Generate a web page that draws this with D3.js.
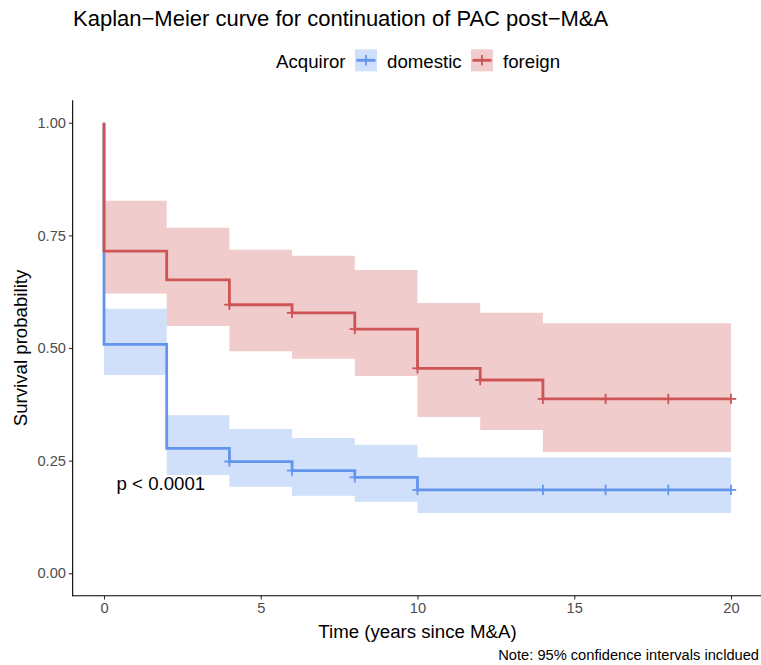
<!DOCTYPE html>
<html>
<head>
<meta charset="utf-8">
<script src="https://cdn.jsdelivr.net/npm/d3@7"></script>
<style>
  html, body { margin: 0; padding: 0; background: #ffffff; }
  svg { display: block; font-family: "Liberation Sans", Arial, Helvetica, sans-serif; }
</style>
</head>
<body>
<svg id="chart" width="761" height="665"></svg>
<script>
// Kaplan–Meier estimates (step values start at each break time, last step runs to endTime)
const endTime = 20;

const domesticTimes = [0, 2, 4, 6, 8, 10];
const domesticSurv  = [0.508, 0.277, 0.248, 0.228, 0.213, 0.185];
const domesticUpper = [0.587, 0.351, 0.320, 0.300, 0.285, 0.257];
const domesticLower = [0.440, 0.218, 0.192, 0.172, 0.159, 0.134];
const domesticCensor = [4, 6, 8, 10, 14, 16, 18, 20];

const foreignTimes = [0, 2, 4, 6, 8, 10, 12, 14];
const foreignSurv  = [0.715, 0.651, 0.596, 0.578, 0.542, 0.455, 0.429, 0.387];
const foreignUpper = [0.827, 0.767, 0.718, 0.705, 0.673, 0.600, 0.578, 0.555];
const foreignLower = [0.621, 0.549, 0.493, 0.476, 0.438, 0.347, 0.318, 0.269];
const foreignCensor = [4, 6, 8, 10, 12, 14, 16, 18, 20];

const groups = ["domestic", "foreign"];
const xTicks = [0, 5, 10, 15, 20];
const yTicks = [0, 0.25, 0.5, 0.75, 1];

const colors = { domestic: "#6495ED", foreign: "#CD5555" };
const fillOpacity = 0.3;

const series = [
  { name: "domestic", times: domesticTimes, surv: domesticSurv, upper: domesticUpper, lower: domesticLower, censor: domesticCensor },
  { name: "foreign",  times: foreignTimes,  surv: foreignSurv,  upper: foreignUpper,  lower: foreignLower,  censor: foreignCensor }
];

const svg = d3.select("#chart");
const panel = { left: 72.65, right: 762.35, top: 100.2, bottom: 595.8 };

const x = d3.scaleLinear().domain([-1, 21]).range([panel.left, panel.right]);
const y = d3.scaleLinear().domain([-0.05, 1.05]).range([panel.bottom, panel.top]);

// survival value at time t for a step series
function survAt(s, t) {
  let v = 1;
  s.times.forEach((tt, i) => { if (tt <= t) v = s.surv[i]; });
  return v;
}

const plot = svg.append("g");

// confidence ribbons
series.forEach(s => {
  const pts = s.times.map((t, i) => ({ t, lo: s.lower[i], hi: s.upper[i] }));
  pts.push({ t: endTime, lo: s.lower[s.lower.length - 1], hi: s.upper[s.upper.length - 1] });
  const area = d3.area()
    .curve(d3.curveStepAfter)
    .x(d => x(d.t))
    .y0(d => y(d.lo))
    .y1(d => y(d.hi));
  plot.append("path")
    .attr("d", area(pts))
    .attr("fill", colors[s.name])
    .attr("fill-opacity", fillOpacity);
});

// survival step lines
series.forEach(s => {
  const pts = [{ t: 0, v: 1 }].concat(s.times.map((t, i) => ({ t, v: s.surv[i] })));
  pts.push({ t: endTime, v: s.surv[s.surv.length - 1] });
  const line = d3.line().curve(d3.curveStepAfter).x(d => x(d.t)).y(d => y(d.v));
  plot.append("path")
    .attr("d", line(pts))
    .attr("fill", "none")
    .attr("stroke", colors[s.name])
    .attr("stroke-width", 2.8);
});

// censoring marks
const half = 5.2;
series.forEach(s => {
  const g = plot.append("g").attr("stroke", colors[s.name]).attr("stroke-width", 1.8);
  s.censor.forEach(t => {
    const cx = x(t), cy = y(survAt(s, t));
    g.append("line").attr("x1", cx - half).attr("x2", cx + half).attr("y1", cy).attr("y2", cy);
    g.append("line").attr("x1", cx).attr("x2", cx).attr("y1", cy - half).attr("y2", cy + half);
  });
});

// axes
const tickColor = "#333333";
const labelColor = "#4D4D4D";

const yAxis = svg.append("g")
  .attr("transform", `translate(${panel.left},0)`)
  .call(d3.axisLeft(y).tickValues(yTicks).tickFormat(d3.format(".2f")).tickSize(3.7).tickPadding(3));
const xAxis = svg.append("g")
  .attr("transform", `translate(0,${panel.bottom})`)
  .call(d3.axisBottom(x).tickValues(xTicks).tickFormat(d3.format("d")).tickSize(3.7).tickPadding(3));

[yAxis, xAxis].forEach(a => {
  a.select(".domain").remove();
  a.selectAll(".tick line").attr("stroke", tickColor).attr("stroke-width", 1.1);
  a.selectAll(".tick text")
    .attr("fill", labelColor)
    .style("font-size", "14.67px")
    .style("font-family", "'Liberation Sans', Arial, Helvetica, sans-serif");
});

svg.append("line")
  .attr("x1", panel.left).attr("x2", panel.left)
  .attr("y1", panel.top).attr("y2", panel.bottom + 0.55)
  .attr("stroke", "#000").attr("stroke-width", 1.1);
svg.append("line")
  .attr("x1", panel.left - 0.55).attr("x2", panel.right)
  .attr("y1", panel.bottom).attr("y2", panel.bottom)
  .attr("stroke", "#000").attr("stroke-width", 1.1);

// p-value annotation
svg.append("text")
  .attr("x", x(0.4)).attr("y", y(0.2)).attr("dy", "0.35em")
  .attr("fill", "#000")
  .style("font-size", "18.67px")
  .text("p < 0.0001");

// title
svg.append("text")
  .attr("x", 73).attr("y", 26)
  .attr("fill", "#000")
  .style("font-size", "22px")
  .text("Kaplan\u2212Meier curve for continuation of PAC post\u2212M&A");

// axis titles
svg.append("text")
  .attr("x", (panel.left + panel.right) / 2).attr("y", 638)
  .attr("text-anchor", "middle")
  .attr("fill", "#000")
  .style("font-size", "18.67px")
  .text("Time (years since M&A)");

svg.append("text")
  .attr("transform", `translate(27,${(panel.top + panel.bottom) / 2}) rotate(-90)`)
  .attr("text-anchor", "middle")
  .attr("fill", "#000")
  .style("font-size", "18.67px")
  .text("Survival probability");

// caption
svg.append("text")
  .attr("x", 759).attr("y", 660)
  .attr("text-anchor", "end")
  .attr("fill", "#000")
  .style("font-size", "14.67px")
  .text("Note: 95% confidence intervals incldued");

// legend
const legend = svg.append("g");
legend.append("text")
  .attr("x", 276).attr("y", 68)
  .attr("fill", "#000")
  .style("font-size", "18.67px")
  .text("Acquiror");

const keyX = { domestic: 355, foreign: 471 };
const labelX = { domestic: 387, foreign: 503 };
groups.forEach(name => {
  const kx = keyX[name], ky = 49.3, ks = 22;
  legend.append("rect")
    .attr("x", kx).attr("y", ky).attr("width", ks).attr("height", ks)
    .attr("fill", colors[name]).attr("fill-opacity", fillOpacity);
  legend.append("line")
    .attr("x1", kx + 1.5).attr("x2", kx + ks - 1.5)
    .attr("y1", ky + ks / 2).attr("y2", ky + ks / 2)
    .attr("stroke", colors[name]).attr("stroke-width", 2.8);
  legend.append("line")
    .attr("x1", kx + ks / 2).attr("x2", kx + ks / 2)
    .attr("y1", ky + ks / 2 - half).attr("y2", ky + ks / 2 + half)
    .attr("stroke", colors[name]).attr("stroke-width", 1.8);
  legend.append("text")
    .attr("x", labelX[name]).attr("y", 68)
    .attr("fill", "#000")
    .style("font-size", "18.67px")
    .text(name);
});
</script>
</body>
</html>
